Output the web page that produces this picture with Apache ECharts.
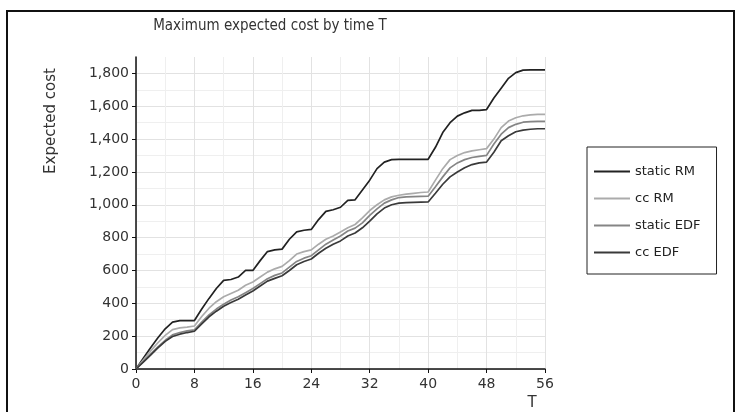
<!DOCTYPE html>
<html>
<head>
<meta charset="utf-8">
<script src="https://cdn.jsdelivr.net/npm/echarts@6/dist/echarts.min.js"></script>
<style>
  html, body { margin: 0; padding: 0; background: #fff; }
  #chart { width: 738px; height: 412px; }
</style>
</head>
<body>
<div id="chart"></div>
<script>
// time axis 0..56
var T = [];
for (var i = 0; i <= 56; i++) T.push(i);

var staticRM = [0, 65, 130, 190, 245, 285, 295, 295, 295, 365, 430, 490, 540, 545, 560, 600, 600, 660, 715, 725,
  730, 790, 835, 845, 850, 910, 960, 970, 985, 1027, 1030, 1090, 1150, 1220, 1260, 1275, 1277, 1277, 1277, 1277,
  1277, 1350, 1440, 1500, 1540, 1560, 1575, 1575, 1580, 1650, 1710, 1770, 1805, 1820, 1822, 1822, 1822];
var ccRM = [0, 55, 110, 160, 205, 240, 250, 255, 262, 320, 370, 410, 440, 460, 480, 510, 530, 560, 590, 610,
  625, 660, 700, 715, 725, 760, 790, 810, 835, 860, 880, 920, 965, 1000, 1030, 1048, 1058, 1065, 1070, 1075,
  1078, 1150, 1220, 1275, 1300, 1318, 1328, 1335, 1342, 1400, 1470, 1510, 1530, 1542, 1548, 1550, 1550];
var staticEDF = [0, 45, 90, 135, 175, 208, 222, 232, 238, 285, 330, 365, 395, 420, 440, 465, 490, 520, 550, 570,
  585, 620, 655, 675, 690, 725, 760, 785, 810, 840, 858, 890, 935, 975, 1010, 1030, 1044, 1048, 1050, 1051,
  1052, 1110, 1170, 1225, 1255, 1275, 1288, 1295, 1301, 1370, 1430, 1470, 1490, 1503, 1506, 1508, 1508];
var ccEDF = [0, 42, 85, 128, 168, 198, 212, 222, 230, 275, 318, 352, 382, 405, 425, 450, 475, 505, 535, 552,
  568, 600, 635, 655, 670, 705, 735, 760, 780, 810, 828, 860, 900, 945, 980, 1000, 1010, 1013, 1015, 1016,
  1017, 1070, 1125, 1170, 1200, 1225, 1245, 1255, 1260, 1320, 1390, 1420, 1445, 1455, 1460, 1463, 1463];

var yTicks = [0, 200, 400, 600, 800, 1000, 1200, 1400, 1600, 1800];

function pairs(ys) {
  return ys.map(function (v, i) { return [T[i], v]; });
}

var font = 'DejaVu Sans';
var myChart = echarts.init(document.getElementById('chart'));

var series = [
  { name: 'static RM', data: staticRM, color: '#222' },
  { name: 'cc RM', data: ccRM, color: '#ababab' },
  { name: 'static EDF', data: staticEDF, color: '#858585' },
  { name: 'cc EDF', data: ccEDF, color: '#3a3a3a' }
].map(function (s) {
  return {
    name: s.name,
    type: 'line',
    data: pairs(s.data),
    showSymbol: false,
    animation: false,
    lineStyle: { color: s.color, width: 1.7 },
    itemStyle: { color: s.color }
  };
});

myChart.setOption({
  backgroundColor: '#fff',
  animation: false,
  title: {
    text: 'Maximum expected cost by time T',
    left: 265,
    textAlign: 'center',
    top: 14,
    textStyle: { fontFamily: '"DejaVu Sans Condensed", "DejaVu Sans"', fontSize: 15, fontWeight: 'normal', color: '#333' }
  },
  legend: {
    orient: 'vertical',
    left: 587,
    top: 147,
    padding: [18, 16, 15, 7],
    borderColor: '#222',
    borderWidth: 1,
    itemGap: 14,
    itemWidth: 36,
    itemHeight: 2,
    icon: 'rect',
    textStyle: { fontFamily: font, fontSize: 13, color: '#222' },
    data: ['static RM', 'cc RM', 'static EDF', 'cc EDF']
  },
  grid: { left: 136, right: 193, top: 57, bottom: 43, containLabel: false },
  xAxis: {
    type: 'value',
    min: 0,
    max: 56,
    interval: 8,
    axisLine: { lineStyle: { color: '#111', width: 1.5 } },
    axisTick: { show: true, length: 4, lineStyle: { color: '#111' } },
    axisLabel: { fontFamily: font, fontSize: 14, color: '#333', margin: 8 },
    splitLine: { show: true, lineStyle: { color: '#e2e2e2', width: 1 } },
    minorTick: { show: false, splitNumber: 2 },
    minorSplitLine: { show: true, lineStyle: { color: '#efefef', width: 1 } }
  },
  yAxis: {
    type: 'value',
    min: 0,
    max: 1900,
    interval: 200,
    axisLine: { show: true, lineStyle: { color: '#111', width: 1.5 } },
    axisTick: { show: true, length: 4, lineStyle: { color: '#111' }, customValues: yTicks },
    axisLabel: {
      fontFamily: font, fontSize: 14, color: '#333', margin: 7,
      customValues: yTicks,
      formatter: function (v) { return v.toLocaleString('en-US'); }
    },
    splitLine: { show: true, lineStyle: { color: '#e2e2e2', width: 1 } },
    minorTick: { show: false, splitNumber: 2 },
    minorSplitLine: { show: true, lineStyle: { color: '#efefef', width: 1 } }
  },
  graphic: [
    {
      type: 'rect',
      shape: { x: 7, y: 11, width: 727, height: 412 },
      style: { fill: null, stroke: '#111', lineWidth: 2 },
      silent: true,
      z: 100
    },
    {
      type: 'text',
      x: 51,
      y: 121,
      rotation: Math.PI / 2,
      style: {
        text: 'Expected cost',
        font: '15px "DejaVu Sans"',
        fill: '#333',
        align: 'center',
        verticalAlign: 'middle'
      }
    },
    {
      type: 'text',
      x: 532,
      y: 403,
      style: {
        text: 'T',
        font: '15px "DejaVu Sans"',
        fill: '#333',
        align: 'center',
        verticalAlign: 'middle'
      }
    }
  ],
  series: series
});
</script>
</body>
</html>
